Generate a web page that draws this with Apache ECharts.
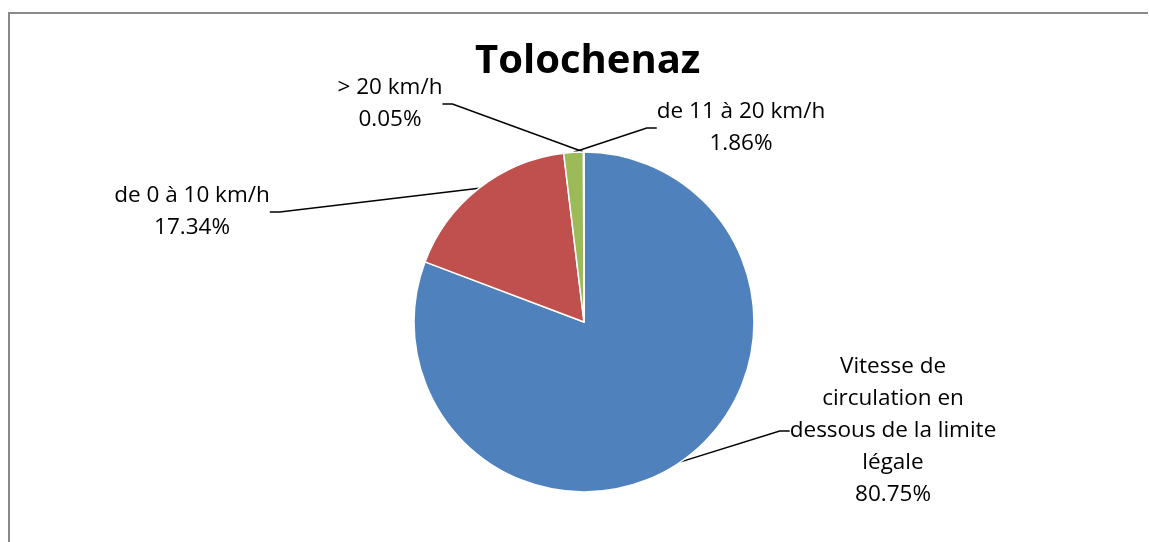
<!DOCTYPE html>
<html><head><meta charset="utf-8">
<script src="https://cdn.jsdelivr.net/npm/echarts@6/dist/echarts.min.js"></script>
<style>html,body{margin:0;padding:0;background:#fff;overflow:hidden}#c{width:1149px;height:542px}</style>
</head><body><div id="c"></div>
<script>
const titleText = 'Tolochenaz';
const categories = ['Vitesse de\ncirculation en\ndessous de la limite\nlégale', 'de 0 à 10 km/h', 'de 11 à 20 km/h', '> 20 km/h'];
const values = [80.75, 17.34, 1.86, 0.05];
const colors = ['#4F81BD', '#C0504D', '#9BBB59', '#8064A2'];
// label anchor (center) positions, layout only
const labelPos = [[893, 431], [192, 212], [741, 128], [390, 104]];

const chart = echarts.init(document.getElementById('c'));
chart.setOption({
  backgroundColor: '#fff',
  animation: false,
  title: {
    text: titleText, left: 470, top: 37,
    textStyle: { fontFamily: 'Open Sans', fontWeight: 'bold', fontSize: 40, color: '#000' }
  },
  graphic: [
    { type: 'line', silent: true, shape: { x1: 9, y1: 12, x2: 9, y2: 542 }, style: { stroke: '#898989', lineWidth: 2 } },
    { type: 'line', silent: true, shape: { x1: 8, y1: 13, x2: 1148, y2: 13 }, style: { stroke: '#898989', lineWidth: 2 } }
  ],
  series: [{
    type: 'pie',
    center: [584, 322],
    radius: 170,
    startAngle: 90,
    clockwise: true,
    data: categories.map((c, i) => ({ name: c, value: values[i], itemStyle: { color: colors[i] } })),
    itemStyle: { borderColor: '#fff', borderWidth: 1.5 },
    label: {
      show: true,
      formatter: p => p.name + '\n' + p.value.toFixed(2) + '%',
      fontFamily: 'Open Sans', fontSize: 22.5, lineHeight: 32, color: '#000', align: 'center'
    },
    labelLine: { show: true, lineStyle: { color: '#000', width: 1.5 }, length: 20, length2: 10 },
    labelLayout: p => ({ x: labelPos[p.dataIndex][0], y: labelPos[p.dataIndex][1], align: 'center', verticalAlign: 'middle' })
  }]
});
</script></body></html>
